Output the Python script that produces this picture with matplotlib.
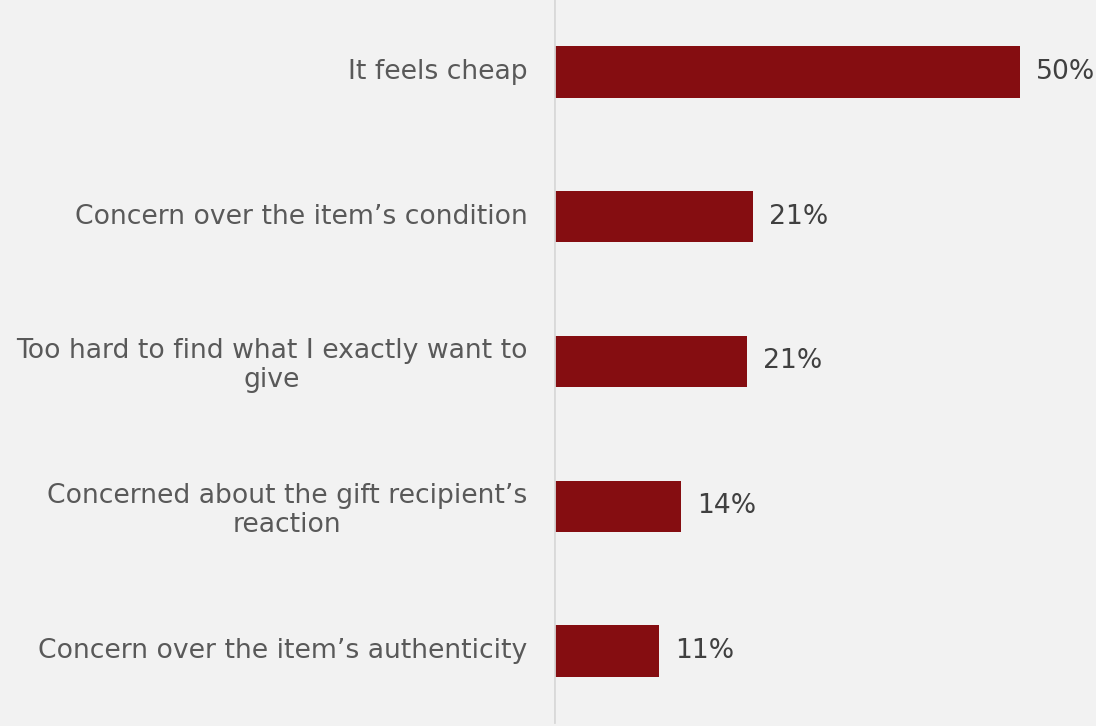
import matplotlib
matplotlib.use("Agg")
import matplotlib.pyplot as plt

# Reasons for not giving second-hand items as gifts (share of respondents, %)
categories = [
    "It feels cheap",
    "Concern over the item\u2019s condition",
    "Too hard to find what I exactly want to\ngive",
    "Concerned about the gift recipient\u2019s\nreaction",
    "Concern over the item\u2019s authenticity",
]
values = [50.0, 21.4, 20.7, 13.7, 11.3]

BG = "#f2f2f2"
BAR = "#850d11"
LABEL = "#595959"
VALUE = "#404040"

W, H = 1096, 726
fig = plt.figure(figsize=(W / 100, H / 100), dpi=100, facecolor=BG)
x0 = 553.5
ax = fig.add_axes([x0 / W, 0, (W - x0) / W, 1], facecolor=BG)

ypos = list(range(len(categories)))
ax.barh(ypos, values, height=0.355, color=BAR, zorder=2)

px_per_unit = 466.5 / 50.0
ax.set_xlim(0, (W - x0) / px_per_unit)
spacing = 144.75
ax.set_ylim((H - 72) / spacing, -72 / spacing)

for s in ax.spines.values():
    s.set_visible(False)
ax.axvline(0, ymin=4 / H, ymax=1, color="#d9d9d9", lw=2, zorder=3)
ax.set_xticks([])
ax.set_yticks([])

fs = 19.2
for y, cat in zip(ypos, categories):
    dy = -4 if "\n" in cat else 0
    ax.annotate(cat, xy=(0, y), xycoords="data", xytext=(-26, dy),
                textcoords="offset pixels", ha="right", va="center",
                multialignment="center", fontsize=fs, color=LABEL,
                linespacing=1.13, family="DejaVu Sans")

for y, v in zip(ypos, values):
    ax.annotate(f"{v:.0f}%", xy=(v, y), xycoords="data", xytext=(16, 0),
                textcoords="offset pixels", ha="left", va="center",
                fontsize=fs, color=VALUE, family="DejaVu Sans",
                annotation_clip=False)

fig.savefig("out.png", dpi=100, facecolor=BG)
